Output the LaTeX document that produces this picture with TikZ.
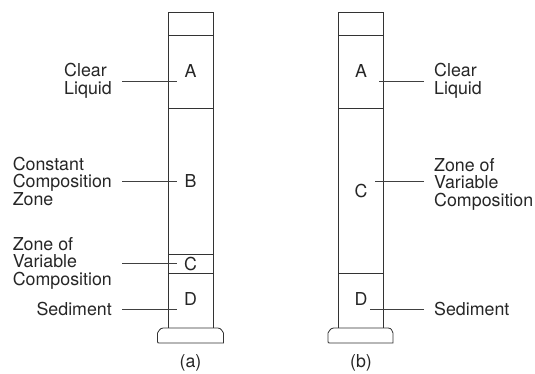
\documentclass[tikz,border=0pt]{standalone}
\usepackage{fontspec}
\setmainfont{TeX Gyre Heros}
\usetikzlibrary{calc}
\usetikzlibrary{positioning}

\newcommand{\lblfont}{\fontsize{17.8}{17.5}\selectfont}

\tikzset{
  wall/.style={draw=black!80, line width=0.8pt},
  leader/.style={draw=black!75, line width=0.7pt},
  lbl/.style={font=\lblfont, text=black!85, align=left, inner xsep=10pt, inner ysep=0pt},
  zone/.style={font=\lblfont, text=black!85, inner sep=0pt},
}

\begin{document}
\begin{tikzpicture}[x=1pt,y=-1pt]
        \useasboundingbox (0,0) rectangle (535,373);

        % Define center points
        \coordinate (a_orig) at (190.5,0);
        \coordinate (b_orig) at (361,0);

        % draw the left cylinder
        \draw[wall] ($(a_orig)+(-22.5,328)$) -- ($(a_orig)+(-22.5,12)$) -- ($(a_orig)+(22.5,12)$) -- ($(a_orig)+(22.5,328)$);
        \draw[wall] ($(a_orig)+(-24,328)$) -- ($(a_orig)+(24,328)$)
              .. controls ($(a_orig)+(30,328)$) .. ($(a_orig)+(33,333)$) -- ($(a_orig)+(33,343)$)
              -- ($(a_orig)+(-31,343)$) .. controls ($(a_orig)+(-33,343)$) .. ($(a_orig)+(-33,341)$)
              -- ($(a_orig)+(-33,333)$) .. controls ($(a_orig)+(-30,328)$) .. ($(a_orig)+(-24,328)$);
        \draw[wall] ($(a_orig)+(-22.5,35)$) -- ($(a_orig)+(22.5,35)$);
        \draw[wall] ($(a_orig)+(-22.5,108)$) -- ($(a_orig)+(22.5,108)$);
        \draw[wall] ($(a_orig)+(-22.5,254)$) -- ($(a_orig)+(22.5,254)$);
        \draw[wall] ($(a_orig)+(-22.5,273)$) -- ($(a_orig)+(22.5,273)$);

        % zone letters (a)
        \node[zone] (A_a) at ($(a_orig)+(0,71.5)$) {A};
        \node[zone] (B_a) at ($(a_orig)+(0,181)$) {B};
        \node[zone] (C_a) at ($(a_orig)+(0,264)$) {C};
        \node[zone] (D_a) at ($(a_orig)+(0,299)$) {D};
        \node[zone] (cap_a) at ($(a_orig)+(0,363)$) {(a)};

        % labels and leaders (a)
        \node[lbl, anchor=east] (clear_a) at ($(a_orig)+(-68.5,81)$) {Clear\\Liquid};
        \node[lbl, anchor=east] (const_a) at ($(a_orig)+(-68.5,181)$) {Constant\\Composition\\Zone};
        \node[lbl, anchor=east] (var_a) at ($(a_orig)+(-68.5,263)$) {Zone of\\Variable\\Composition};
        \node[lbl, anchor=east] (sed_a) at ($(a_orig)+(-68.5,309)$) {Sediment};
        \coordinate (clear_a_end) at ($(a_orig)+(-13.5,81)$);
        \coordinate (const_a_end) at ($(a_orig)+(-13.5,181)$);
        \coordinate (var_a_end) at ($(a_orig)+(-13.5,263)$);
        \coordinate (sed_a_end) at ($(a_orig)+(-13.5,309)$);
        \draw[leader] (clear_a) -- (clear_a_end);
        \draw[leader] (const_a) -- (const_a_end);
        \draw[leader] (var_a) -- (var_a_end);
        \draw[leader] (sed_a) -- (sed_a_end);

        % draw the right cylinder
        \draw[wall] ($(b_orig)+(-22.5,328)$) -- ($(b_orig)+(-22.5,12)$) -- ($(b_orig)+(22.5,12)$) -- ($(b_orig)+(22.5,328)$);
        \draw[wall] ($(b_orig)+(-24,328)$) -- ($(b_orig)+(24,328)$)
              .. controls ($(b_orig)+(30,328)$) .. ($(b_orig)+(32,333)$) -- ($(b_orig)+(32,343)$)
              -- ($(b_orig)+(-31,343)$) .. controls ($(b_orig)+(-33,343)$) .. ($(b_orig)+(-33,341)$)
              -- ($(b_orig)+(-33,333)$) .. controls ($(b_orig)+(-30,328)$) .. ($(b_orig)+(-24,328)$);
        \draw[wall] ($(b_orig)+(-22.5,35)$) -- ($(b_orig)+(22.5,35)$);
        \draw[wall] ($(b_orig)+(-22.5,108)$) -- ($(b_orig)+(22.5,108)$);
        \draw[wall] ($(b_orig)+(-22.5,273)$) -- ($(b_orig)+(22.5,273)$);

        % zone letters (b)
        \node[zone] (A_b) at ($(b_orig)+(0,71.5)$) {A};
        \node[zone] (C_b) at ($(b_orig)+(0,191)$) {C};
        \node[zone] (D_b) at ($(b_orig)+(0,299)$) {D};
        \node[zone] (cap_b) at ($(b_orig)+(0,363)$) {(b)};

        % labels and leaders (b)
        \node[lbl, anchor=west] (clear_b) at ($(b_orig)+(63,81)$) {Clear\\Liquid};
        \node[lbl, anchor=west] (var_b) at ($(b_orig)+(63,184)$) {Zone of\\Variable\\Composition};
        \node[lbl, anchor=west] (sed_b) at ($(b_orig)+(63,309)$) {Sediment};
        \coordinate (clear_b_end) at ($(b_orig)+(18,81)$);
        \coordinate (var_b_end) at ($(b_orig)+(14,181)$);
        \coordinate (sed_b_end) at ($(b_orig)+(9,309)$);
        \draw[leader] (clear_b) -- (clear_b_end);
        \draw[leader] (var_b.west |- var_b_end) -- (var_b_end);
        \draw[leader] (sed_b) -- (sed_b_end);

\end{tikzpicture}
\end{document}
